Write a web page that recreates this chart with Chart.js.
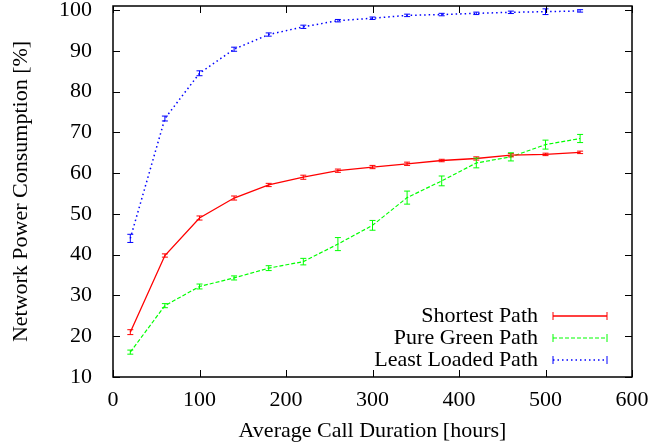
<!DOCTYPE html>
<html lang="en">
<head>
<meta charset="UTF-8">
<title>Network Power Consumption</title>
<script src="https://cdn.jsdelivr.net/npm/chart.js"></script>
<style>
    html, body { margin: 0; padding: 0; background: #fff; }
    #wrap { width: 672px; height: 444px; }
</style>
</head>
<body>
<div id="wrap"><canvas id="chart" width="672" height="444"></canvas></div>
<script>
// --- values ---
const duration = [20, 60, 100, 140, 180, 220, 260, 300, 340, 380, 420, 460, 500, 540];

const shortest    = [21.0, 39.8, 49.0, 53.9, 57.1, 59.0, 60.6, 61.5, 62.3, 63.1, 63.6, 64.4, 64.6, 65.1];
const shortestErr = [0.6, 0.4, 0.5, 0.5, 0.4, 0.5, 0.4, 0.4, 0.4, 0.3, 0.4, 0.4, 0.3, 0.3];

const green    = [16.1, 27.5, 32.2, 34.3, 36.7, 38.3, 42.6, 47.2, 54.0, 58.1, 62.5, 64.0, 67.0, 68.5];
const greenErr = [0.5, 0.5, 0.6, 0.5, 0.6, 0.8, 1.6, 1.2, 1.6, 1.2, 1.2, 1.0, 1.1, 1.0];

const leastLoaded    = [44.0, 73.4, 84.5, 90.4, 94.0, 95.9, 97.4, 98.0, 98.7, 98.9, 99.2, 99.45, 99.6, 99.8];
const leastLoadedErr = [1.0, 0.6, 0.6, 0.5, 0.4, 0.4, 0.3, 0.3, 0.3, 0.3, 0.3, 0.3, 0.7, 0.3];

const xTicks = [0, 100, 200, 300, 400, 500, 600];
const yTicks = [10, 20, 30, 40, 50, 60, 70, 80, 90, 100];

const toPoints = ys => ys.map((y, i) => ({ x: duration[i], y: y }));

Chart.defaults.font.family = "'Liberation Serif', 'Times New Roman', serif";
Chart.defaults.font.size = 22;
Chart.defaults.color = '#000';

// gnuplot style frame: box plus inward ticks on all four sides
const framePlugin = {
    id: 'frame',
    afterDraw(chart) {
        const { ctx, chartArea: a, scales: { x, y } } = chart;
        const len = 7;
        ctx.save();
        ctx.strokeStyle = '#000';
        ctx.lineWidth = 1;
        ctx.beginPath();
        xTicks.forEach(v => {
            const px = Math.round(x.getPixelForValue(v)) + 0.5;
            ctx.moveTo(px, a.bottom); ctx.lineTo(px, a.bottom - len);
            ctx.moveTo(px, a.top); ctx.lineTo(px, a.top + len);
        });
        yTicks.forEach(v => {
            const py = Math.round(y.getPixelForValue(v)) + 0.5;
            ctx.moveTo(a.left, py); ctx.lineTo(a.left + len, py);
            ctx.moveTo(a.right, py); ctx.lineTo(a.right - len, py);
        });
        ctx.stroke();
        ctx.lineWidth = 1.5;
        ctx.strokeRect(a.left, a.top, a.right - a.left, a.bottom - a.top);
        ctx.restore();
    }
};

// vertical error bars with small caps
const errorBarPlugin = {
    id: 'errorBars',
    afterDatasetsDraw(chart) {
        const { ctx, scales: { x, y } } = chart;
        ctx.save();
        chart.data.datasets.forEach(ds => {
            ctx.strokeStyle = ds.borderColor;
            ctx.lineWidth = 1;
            ctx.setLineDash([]);
            ctx.beginPath();
            ds.data.forEach((p, i) => {
                const px = x.getPixelForValue(p.x);
                const top = y.getPixelForValue(p.y + ds.errors[i]);
                const bot = y.getPixelForValue(p.y - ds.errors[i]);
                ctx.moveTo(px, top); ctx.lineTo(px, bot);
                ctx.moveTo(px - 3, top); ctx.lineTo(px + 3, top);
                ctx.moveTo(px - 3, bot); ctx.lineTo(px + 3, bot);
            });
            ctx.stroke();
        });
        ctx.restore();
    }
};

// key in the lower right corner, like gnuplot
const keyPlugin = {
    id: 'key',
    afterDraw(chart) {
        const { ctx, chartArea: a } = chart;
        const textRight = a.right - 94;
        const x0 = a.right - 79, x1 = a.right - 25;
        ctx.save();
        ctx.font = "22px 'Liberation Serif', 'Times New Roman', serif";
        ctx.textAlign = 'right';
        ctx.textBaseline = 'middle';
        chart.data.datasets.forEach((ds, i) => {
            const yy = a.bottom - 61 + i * 22;
            ctx.fillStyle = '#000';
            ctx.fillText(ds.label, textRight, yy);
            ctx.strokeStyle = ds.borderColor;
            ctx.lineWidth = ds.borderWidth;
            ctx.setLineDash(ds.borderDash || []);
            ctx.beginPath();
            ctx.moveTo(x0, yy); ctx.lineTo(x1, yy);
            ctx.stroke();
            ctx.setLineDash([]);
            ctx.lineWidth = 1;
            ctx.beginPath();
            ctx.moveTo(x0, yy - 4); ctx.lineTo(x0, yy + 4);
            ctx.moveTo(x1, yy - 4); ctx.lineTo(x1, yy + 4);
            ctx.stroke();
        });
        ctx.restore();
    }
};

new Chart(document.getElementById('chart'), {
    type: 'line',
    data: {
        datasets: [{
            label: 'Shortest Path',
            data: toPoints(shortest),
            errors: shortestErr,
            borderColor: '#ff0000',
            borderWidth: 1.3,
            pointRadius: 0,
            tension: 0
        }, {
            label: 'Pure Green Path',
            data: toPoints(green),
            errors: greenErr,
            borderColor: '#00ff00',
            borderWidth: 1.2,
            borderDash: [4, 2],
            pointRadius: 0,
            tension: 0
        }, {
            label: 'Least Loaded Path',
            data: toPoints(leastLoaded),
            errors: leastLoadedErr,
            borderColor: '#0000ff',
            borderWidth: 1.5,
            borderDash: [1.5, 3],
            pointRadius: 0,
            tension: 0
        }]
    },
    options: {
        responsive: false,
        animation: false,
        layout: { padding: { top: 0, right: 40, left: 0, bottom: 0 } },
        plugins: {
            legend: { display: false },
            tooltip: { enabled: false }
        },
        scales: {
            x: {
                type: 'linear',
                min: 0,
                max: 600,
                afterBuildTicks: s => { s.ticks = xTicks.map(v => ({ value: v })); },
                afterFit: s => { s.height = 67; },
                grid: { display: false },
                border: { display: false },
                ticks: { padding: 2, maxRotation: 0, autoSkip: false },
                title: { display: true, text: 'Average Call Duration [hours]', padding: { top: 0, bottom: 0 } }
            },
            y: {
                min: 10,
                max: 101,
                afterBuildTicks: s => { s.ticks = yTicks.map(v => ({ value: v })); },
                afterFit: s => { s.width = 113; s.paddingTop = 6; s.paddingBottom = 0; },
                grid: { display: false },
                border: { display: false },
                ticks: { padding: 13, autoSkip: false },
                title: { display: true, text: 'Network Power Consumption [%]', padding: { top: 8, bottom: 0 } }
            }
        }
    },
    plugins: [framePlugin, errorBarPlugin, keyPlugin]
});
</script>
</body>
</html>
